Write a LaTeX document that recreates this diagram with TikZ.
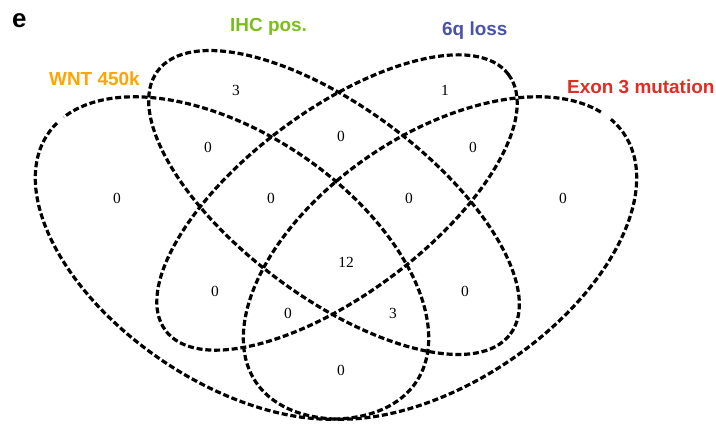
\documentclass[tikz,border=0pt]{standalone}
\usepackage{fontspec}
\usetikzlibrary{calc}
\setmainfont{Liberation Serif}
\newfontfamily\lsans{Liberation Sans}
\definecolor{cgreen}{RGB}{122,190,30}
\definecolor{cblue}{RGB}{72,82,168}
\definecolor{corange}{RGB}{255,165,0}
\definecolor{cred}{RGB}{224,45,35}
\begin{document}
\begin{tikzpicture}[x=1bp,y=1bp,
  venn/.style={draw=black,line width=3.2bp,dash pattern=on 6bp off 2.8bp},
  num/.style={inner sep=0pt,font=\fontsize{15.5}{16}\selectfont},
  setlab/.style={inner sep=0pt,anchor=base west,font=\lsans\bfseries\fontsize{19}{20}\selectfont}]
\useasboundingbox (0,0) rectangle (716,425);
\coordinate (cA) at (232,167);
\coordinate (cB) at (334,222.5);
\coordinate (cC) at (337,222.5);
\coordinate (cD) at (440,167);
% WNT 450k
\draw[venn,rotate around={-34:(cA)}] ($(cA)+(173.5:222bp and 124bp)$) arc[start angle=173.5,end angle=529.5,x radius=222bp,y radius=124bp];
% IHC pos.
\draw[venn,rotate around={-36.7:(cB)}] (cB) ellipse[x radius=220bp,y radius=95bp];
% 6q loss
\draw[venn,rotate around={36.7:(cC)}] (cC) ellipse[x radius=214bp,y radius=92bp];
% Exon 3 mutation
\draw[venn,rotate around={34:(cD)}] ($(cD)+(14.5:222bp and 124bp)$) arc[start angle=14.5,end angle=369,x radius=222bp,y radius=124bp];
% labels
\node[setlab,font=\lsans\bfseries\fontsize{26}{28}\selectfont] (panel) at (12,397) {e};
\node[setlab,text=cgreen] (labB) at (230,393) {IHC pos.};
\node[setlab,text=cblue] (labC) at (442,389) {6q loss};
\node[setlab,text=corange] (labA) at (49,340) {WNT 450k};
\node[setlab,text=cred] (labD) at (567,332) {Exon 3 mutation};
% numbers
\node[num] (n1) at (236,335) {3};
\node[num] (n2) at (445,335) {1};
\node[num] (n3) at (208,278) {0};
\node[num] (n4) at (341,289) {0};
\node[num] (n5) at (473,278) {0};
\node[num] (n6) at (117,227) {0};
\node[num] (n7) at (271,227) {0};
\node[num] (n8) at (409,227) {0};
\node[num] (n9) at (563,227) {0};
\node[num] (n10) at (346,163) {12};
\node[num] (n11) at (215,134) {0};
\node[num] (n12) at (465,134) {0};
\node[num] (n13) at (288,112) {0};
\node[num] (n14) at (393,112) {3};
\node[num] (n15) at (341,55) {0};
\end{tikzpicture}
\end{document}
